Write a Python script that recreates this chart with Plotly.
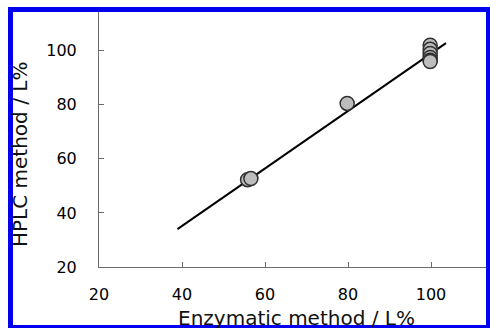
import plotly.graph_objects as go

# Data
enzymatic = [55.8, 56.6, 79.8, 99.8, 99.8, 99.8, 99.8, 99.8, 99.8]
hplc = [52.3, 52.7, 80.5, 102.0, 100.5, 99.0, 97.5, 96.5, 96.0]
fit_x = [38.9, 103.6]
fit_y = [34.0, 102.8]
tick_vals = [20, 40, 60, 80, 100]
tick_text = ["20", "40", "60", "80", "100"]

W, H = 490, 328
L, R, T, B = 99, 2, 12, 61
pw, ph = W - L - R, H - T - B

FONT = "DejaVu Sans"

fig = go.Figure()
fig.add_trace(go.Scatter(
    x=fit_x, y=fit_y, mode="lines",
    line=dict(color="#000000", width=2),
    showlegend=False, hoverinfo="skip",
))
fig.add_trace(go.Scatter(
    x=enzymatic, y=hplc, mode="markers",
    marker=dict(size=14, color="#bdbdbd", line=dict(color="#303030", width=1.5)),
    showlegend=False,
))

axis_common = dict(
    showgrid=False, zeroline=False, showline=True,
    linecolor="#6a6a6a", linewidth=1,
    ticks="inside", ticklen=5, tickcolor="#6a6a6a", tickwidth=1,
    tickvals=tick_vals, ticktext=tick_text,
    tickfont=dict(family=FONT, size=16, color="#000000"),
)

fig.update_xaxes(range=[20, 20 + pw / 4.15], ticklabelstandoff=13, **axis_common)
fig.update_yaxes(range=[20, 20 + ph / 2.704], ticklabelstandoff=18, **axis_common)


def px_x(p):
    return (p - L) / pw


def px_y(p):
    return (H - B - p) / ph


fig.add_annotation(
    text="Enzymatic method / L%", xref="paper", yref="paper",
    x=px_x(296.5), y=px_y(304), xanchor="center", yanchor="top",
    showarrow=False, font=dict(family=FONT, size=20, color="#111111"),
)
fig.add_annotation(
    text="HPLC method / L%", xref="paper", yref="paper",
    x=px_x(20), y=px_y(155), xanchor="center", yanchor="middle",
    textangle=-90, showarrow=False, font=dict(family=FONT, size=20, color="#111111"),
)

# Blue frame around the figure
fig.add_shape(
    type="rect", xref="paper", yref="paper",
    x0=px_x(10.5), x1=px_x(488.5), y0=px_y(327.5), y1=px_y(9.5),
    line=dict(color="#0000ee", width=5), fillcolor="rgba(0,0,0,0)", layer="above",
)

fig.update_layout(
    width=W, height=H,
    margin=dict(l=L, r=R, t=T, b=B),
    paper_bgcolor="white", plot_bgcolor="white",
    showlegend=False,
)

fig.write_html("out.html")
